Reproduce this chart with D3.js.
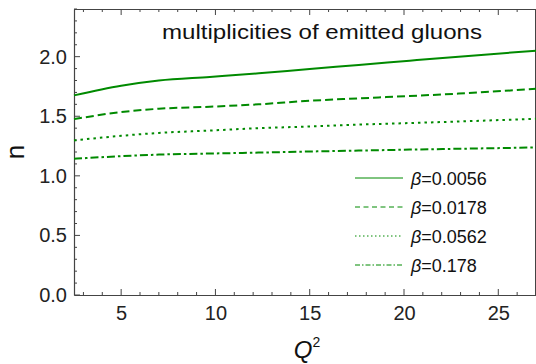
<!DOCTYPE html>
<html><head><meta charset="utf-8">
<script src="https://cdn.jsdelivr.net/npm/d3@7"></script>
<style>body{margin:0;background:#fff}svg{display:block}</style>
</head><body>
<svg id="c" width="536" height="364"></svg>
<script>
const q2 = [2.5, 5, 7, 9.7, 12.3, 15, 17.6, 20.3, 22.9, 27];
const beta0056 = [1.675, 1.756, 1.80, 1.83, 1.86, 1.897, 1.93, 1.966, 2.00, 2.05];
const beta0178 = [1.476, 1.535, 1.563, 1.58, 1.60, 1.63, 1.65, 1.67, 1.69, 1.73];
const beta0562 = [1.297, 1.336, 1.36, 1.38, 1.40, 1.414, 1.43, 1.443, 1.456, 1.479];
const beta178  = [1.143, 1.165, 1.178, 1.187, 1.195, 1.204, 1.212, 1.22, 1.227, 1.238];
const seriesNames = ["\u03B2=0.0056", "\u03B2=0.0178", "\u03B2=0.0562", "\u03B2=0.178"];
const xTicks = [5, 10, 15, 20, 25];
const yTicks = [0.0, 0.5, 1.0, 1.5, 2.0];

const svg = d3.select("#c");
const FONT = "Liberation Sans, Arial, sans-serif";
const L = 74, R = 536, T = 9, B = 295;
const x = d3.scaleLinear().domain([2.5, 27]).range([L, R]);
const y = d3.scaleLinear().domain([0, 2.4]).range([B, T]);
const green = "#008a00";
const axisColor = "#444";
const dashes = [null, "8,4", "2.5,4", "8,3,2.5,3"];
const legendDashes = [null, "5,3.5", "1.5,2.5", "5,2,1.5,2"];
const all = [beta0056, beta0178, beta0562, beta178];

// frame
svg.append("line").attr("x1", L).attr("x2", R).attr("y1", T + 0.5).attr("y2", T + 0.5).attr("stroke", axisColor);
svg.append("line").attr("x1", R - 0.5).attr("x2", R - 0.5).attr("y1", T).attr("y2", B).attr("stroke", axisColor);

// bottom axis
const xMinor = d3.range(3, 27.01, 1);
const gx = svg.append("g").attr("transform", `translate(0,${B})`);
gx.call(d3.axisBottom(x).tickValues(xTicks).tickSize(0).tickPadding(11).tickFormat(d3.format("d")));
gx.select(".domain").attr("stroke", axisColor).attr("stroke-width", 1.2);
gx.selectAll("text").attr("font-family", FONT).attr("font-size", 20).attr("fill", "#222");
xMinor.forEach(v => {
  const major = xTicks.includes(v);
  const len = major ? 6 : 3;
  svg.append("line").attr("x1", x(v)).attr("x2", x(v)).attr("y1", B).attr("y2", B - len).attr("stroke", axisColor);
  svg.append("line").attr("x1", x(v)).attr("x2", x(v)).attr("y1", T).attr("y2", T + len).attr("stroke", axisColor);
});

// left axis
const yMinor = d3.range(0, 2.401, 0.1).map(v => +v.toFixed(2));
const gy = svg.append("g").attr("transform", `translate(${L},0)`);
gy.call(d3.axisLeft(y).tickValues(yTicks).tickSize(0).tickPadding(7).tickFormat(d3.format(".1f")));
gy.select(".domain").attr("stroke", axisColor).attr("stroke-width", 1.2);
gy.selectAll("text").attr("font-family", FONT).attr("font-size", 20).attr("fill", "#222");
yMinor.forEach(v => {
  const major = yTicks.some(t => Math.abs(t - v) < 1e-6);
  const len = major ? 6 : 3;
  svg.append("line").attr("x1", L).attr("x2", L + len).attr("y1", y(v)).attr("y2", y(v)).attr("stroke", axisColor);
});

// curves
const line = d3.line().x((d, i) => x(q2[i])).y(d => y(d)).curve(d3.curveMonotoneX);
all.forEach((s, i) => {
  svg.append("path").attr("d", line(s)).attr("fill", "none").attr("stroke", green)
    .attr("stroke-width", 2).attr("stroke-dasharray", dashes[i]);
});

// title
svg.append("text").attr("x", 162).attr("y", 39)
  .attr("font-family", FONT).attr("font-size", 20).attr("fill", "#111")
  .attr("textLength", 320).attr("lengthAdjust", "spacingAndGlyphs")
  .text("multiplicities of emitted gluons");

// legend
const ly = [178, 207, 236, 265];
seriesNames.forEach((n, i) => {
  svg.append("line").attr("x1", 355).attr("x2", 403).attr("y1", ly[i]).attr("y2", ly[i])
    .attr("stroke", green).attr("stroke-width", 1).attr("stroke-dasharray", legendDashes[i]);
  const t = svg.append("text").attr("x", 411).attr("y", ly[i] + 6.5)
    .attr("font-family", FONT).attr("font-size", 18).attr("fill", "#111");
  t.append("tspan").attr("font-style", "italic").text("\u03B2");
  t.append("tspan").text(n.slice(1));
});

// axis labels
svg.append("text").attr("transform", "translate(24,152) rotate(-90)").attr("text-anchor", "middle")
  .attr("font-family", FONT).attr("font-size", 26).attr("fill", "#111").text("n");
const xl = svg.append("text").attr("x", 307).attr("y", 358).attr("text-anchor", "middle")
  .attr("font-family", FONT).attr("font-size", 24).attr("fill", "#111");
xl.append("tspan").attr("font-style", "italic").text("Q");
xl.append("tspan").attr("font-size", 14).attr("dy", -11).text("2");
</script>
</body></html>
